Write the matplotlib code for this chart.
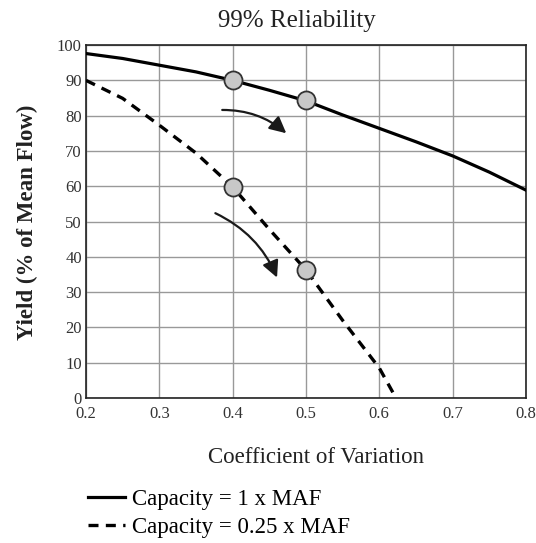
import matplotlib
matplotlib.use("Agg")
import matplotlib.pyplot as plt  # noqa: E402
from matplotlib.patches import FancyArrowPatch  # noqa: E402

# data
cv_full = [0.2, 0.25, 0.3, 0.35, 0.4, 0.45, 0.5, 0.55, 0.6, 0.65, 0.7, 0.75, 0.8]
yield_full = [97.6, 96.2, 94.3, 92.4, 90.0, 87.2, 84.2, 80.2, 76.4, 72.6, 68.6, 64.0, 58.9]

cv_quarter = [0.2, 0.25, 0.3, 0.35, 0.4, 0.45, 0.5, 0.55, 0.6, 0.619]
yield_quarter = [90.0, 84.9, 77.3, 69.4, 59.8, 47.8, 36.3, 22.0, 8.5, 1.4]

marker_cv = [0.4, 0.5]
marker_full = [90.0, 84.3]
marker_quarter = [59.7, 36.4]

arrows = [((0.382, 81.6), (0.476, 74.5)), ((0.373, 52.7), (0.462, 33.4))]

xticks = [0.2, 0.3, 0.4, 0.5, 0.6, 0.7, 0.8]
yticks = list(range(0, 101, 10))

serif = ["Liberation Serif", "DejaVu Serif"]
plt.rcParams["font.family"] = serif

fig = plt.figure(figsize=(5.36, 5.43), dpi=100)
ax = fig.add_axes([0.1604, 0.267, 0.8209, 0.650])

line1, = ax.plot(cv_full, yield_full, color="black", lw=2.3, label="Capacity = 1 x MAF", zorder=3)
line2, = ax.plot(cv_quarter, yield_quarter, color="black", lw=2.4, ls=(0, (3, 2.2)),
                 label="Capacity = 0.25 x MAF", zorder=3)

ax.plot(marker_cv, marker_full, "o", ms=13, mfc="#c8c8c8", mec="#333333", mew=1.3, zorder=4)
ax.plot(marker_cv, marker_quarter, "o", ms=13, mfc="#c8c8c8", mec="#333333", mew=1.3, zorder=4)

for start, end in arrows:
    ax.add_patch(FancyArrowPatch(start, end, connectionstyle="arc3,rad=-0.2",
                                 arrowstyle="-|>,head_length=10,head_width=5",
                                 color="#1a1a1a", lw=1.6, zorder=4))

ax.set_xlim(0.2, 0.8)
ax.set_ylim(0, 100)
ax.set_xticks(xticks)
ax.set_xticklabels([f"{v:.1f}" for v in xticks])
ax.set_yticks(yticks)
ax.tick_params(length=0, labelsize=12, colors="#333333")
ax.tick_params(axis="x", pad=6)
ax.tick_params(axis="y", pad=3)
ax.grid(color="#999999", lw=1.0)
for spine in ax.spines.values():
    spine.set_color("#222222")
    spine.set_linewidth(1.2)

fig.text(0.553, 0.962, "99% Reliability", fontsize=18, color="#222222", ha="center", va="center")
fig.text(0.589, 0.158, "Coefficient of Variation", fontsize=16.5, color="#222222",
         ha="center", va="center")
fig.text(0.052, 0.59, "Yield (% of Mean Flow)", fontsize=16.5, fontweight="bold",
         color="#222222", ha="center", va="center", rotation=90)

fig.legend(handles=[line1, line2], loc="lower left", bbox_to_anchor=(0.135, -0.02),
           frameon=False, fontsize=16.5, handlelength=1.6, handletextpad=0.3,
           labelspacing=0.3, borderaxespad=0.3)

fig.savefig("out.png", dpi=100)
plt.close(fig)
